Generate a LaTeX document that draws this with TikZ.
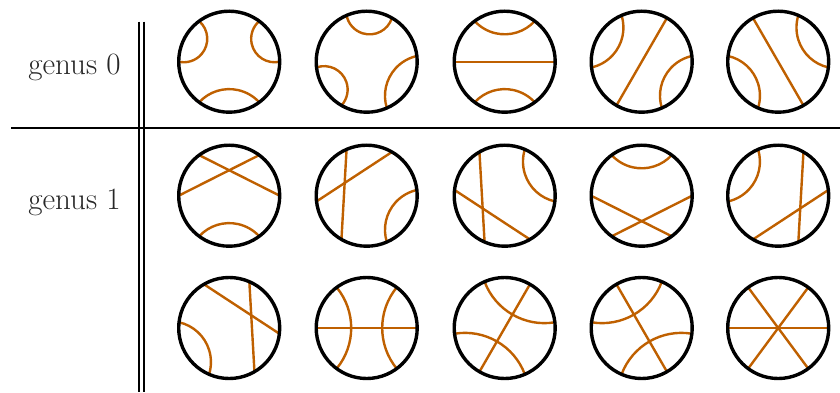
\documentclass[tikz,border=0pt]{standalone}
\usepackage{tikz}
\definecolor{chordcol}{rgb}{0.75,0.375,0}
\tikzset{
  rim/.style={draw=black,line width=1.7pt},
  chordst/.style={draw=chordcol,line width=1.2pt},
  sep/.style={draw=black,line width=1pt},
  lbl/.style={anchor=base,text=black!85,font=\fontsize{15.5}{18}\selectfont}
}
\newcommand{\Rad}{50.5}
% straight chord between two boundary points
\newcommand{\gch}[2]{\draw[chordst] (#1:\Rad) -- (#2:\Rad);}
% circular arc between two boundary points, bulging towards the centre
\newcommand{\gar}[2]{%
  \pgfmathsetmacro\dd{abs(#2-#1)}%
  \pgfmathsetmacro\ss{ifthenelse(\dd<90,27.4,15.5)}%
  \pgfmathsetmacro\hh{\Rad*sin(\dd/2)}%
  \pgfmathsetmacro\cc{\Rad*cos(\dd/2)}%
  \pgfmathsetmacro\sg{\cc-\ss}%
  \pgfmathsetmacro\ra{(\hh*\hh+\sg*\sg)/(2*\sg)}%
  \pgfmathsetmacro\DD{\ss+\ra}%
  \pgfmathsetmacro\mm{(#1+#2)/2}%
  \pgfmathsetmacro\sa{atan2(\Rad*sin(#1)-\DD*sin(\mm),\Rad*cos(#1)-\DD*cos(\mm))}%
  \pgfmathsetmacro\sb{atan2(\Rad*sin(#2)-\DD*sin(\mm),\Rad*cos(#2)-\DD*cos(\mm))}%
  \pgfmathsetmacro\df{mod(\sb-\sa+540,360)-180}%
  \pgfmathsetmacro\se{\sa+\df}%
  \draw[chordst] (#1:\Rad) arc[start angle=\sa, end angle=\se, radius=\ra];}
\newcommand{\rimc}{\draw[rim] (0,0) circle (\Rad);}
\begin{document}
\begin{tikzpicture}[x=0.5pt,y=0.5pt]
\useasboundingbox (0,0) rectangle (840,392);
% separators
\draw[sep] (139,370.3) -- (139,0);
\draw[sep] (144,370.3) -- (144,0);
\draw[sep] (11,264) -- (840,264);
% labels
\node[lbl] (g0) at (74.5,317.5) {genus 0};
\node[lbl] (g1) at (74.5,182.7) {genus 1};
% ---------------- row 1 (genus 0)
\begin{scope}[shift={(229.2,330.3)}]
 \gar{126.5}{180}\gar{0}{53.5}\gar{233.5}{306.5}\rimc
\end{scope}
\begin{scope}[shift={(366.7,330.3)}]
 \gar{60}{113.5}\gar{186.5}{240}\gar{293.5}{366.5}\rimc
\end{scope}
\begin{scope}[shift={(504.7,330.3)}]
 \gch{0}{180}\gar{53.5}{126.5}\gar{233.5}{306.5}\rimc
\end{scope}
\begin{scope}[shift={(641.7,330.3)}]
 \gar{113.5}{186.5}\gch{60}{240}\gar{293.5}{366.5}\rimc
\end{scope}
\begin{scope}[shift={(778.2,330.3)}]
 \gar{-6.5}{66.5}\gch{120}{300}\gar{173.5}{246.5}\rimc
\end{scope}
% ---------------- row 2 (genus 1)
\begin{scope}[shift={(229.2,196.3)}]
 \gch{126.5}{0}\gch{53.5}{180}\gar{233.5}{306.5}\rimc
\end{scope}
\begin{scope}[shift={(366.7,196.3)}]
 \gch{113.5}{240}\gch{60}{186.5}\gar{293.5}{366.5}\rimc
\end{scope}
\begin{scope}[shift={(504.7,196.3)}]
 \gch{120}{246.5}\gch{173.5}{300}\gar{-6.5}{66.5}\rimc
\end{scope}
\begin{scope}[shift={(641.7,196.3)}]
 \gar{53.5}{126.5}\gch{180}{306.5}\gch{0}{233.5}\rimc
\end{scope}
\begin{scope}[shift={(778.2,196.3)}]
 \gar{113.5}{186.5}\gch{60}{293.5}\gch{6.5}{240}\rimc
\end{scope}
% ---------------- row 3 (genus 1)
\begin{scope}[shift={(229.2,64)}]
 \gch{120}{-6.5}\gch{66.5}{300}\gar{173.5}{246.5}\rimc
\end{scope}
\begin{scope}[shift={(366.7,64)}]
 \gch{0}{180}\gar{126.5}{233.5}\gar{-53.5}{53.5}\rimc
\end{scope}
\begin{scope}[shift={(504.7,64)}]
 \gar{6.5}{113.5}\gch{60}{240}\gar{186.5}{293.5}\rimc
\end{scope}
\begin{scope}[shift={(641.7,64)}]
 \gch{120}{300}\gar{66.5}{173.5}\gar{246.5}{353.5}\rimc
\end{scope}
\begin{scope}[shift={(778.2,64)}]
 \gch{0}{180}\gch{53.5}{233.5}\gch{126.5}{306.5}\rimc
\end{scope}
\end{tikzpicture}
\end{document}
